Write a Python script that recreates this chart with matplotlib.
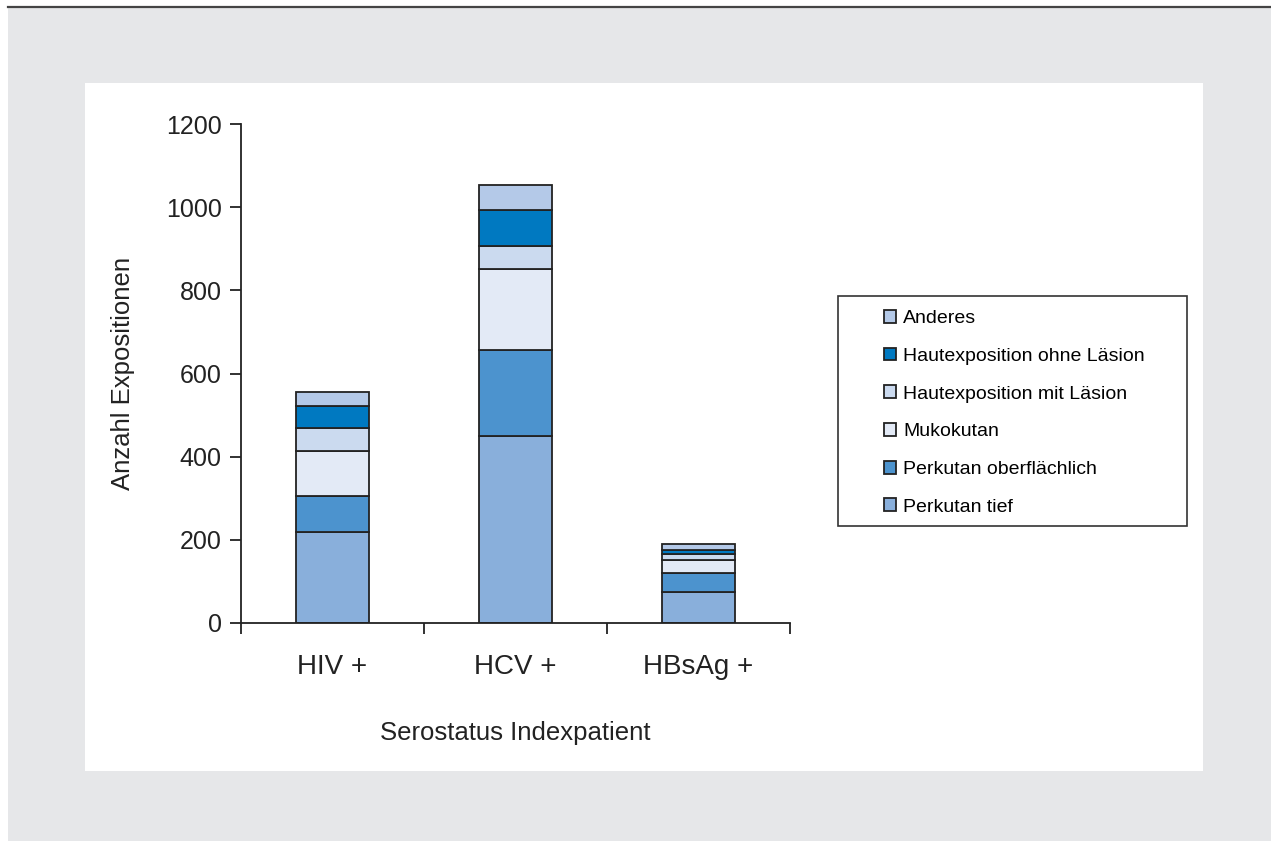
import matplotlib.pyplot as plt
from matplotlib.patches import Rectangle
from matplotlib.lines import Line2D
import numpy as np

categories = ["HIV +", "HCV +", "HBsAg +"]
series_names = ["Perkutan tief", "Perkutan oberflächlich", "Mukokutan",
                "Hautexposition mit Läsion", "Hautexposition ohne Läsion", "Anderes"]
perkutan_tief = [220, 449, 74]
perkutan_oberfl = [85, 208, 47]
mukokutan = [109, 194, 30]
haut_mit = [55, 55, 14]
haut_ohne = [53, 86, 11]
anderes = [34, 62, 15]
colors = ["#89AFDB", "#4C93CE", "#E3EAF6", "#CBDAEF", "#0079C1", "#B4C9E8"]

plt.rcParams["font.family"] = ["Liberation Sans", "DejaVu Sans"]

W, H = 1271, 841
fig = plt.figure(figsize=(W / 100, H / 100), dpi=100)
fig.patch.set_facecolor("white")

# grey frame + white panel
fig.patches.append(Rectangle((8 / W, 0), 1 - 8 / W, (H - 7) / H, transform=fig.transFigure,
                             facecolor="#E6E7E9", edgecolor="none", zorder=-2))
fig.patches.append(Rectangle((85 / W, (H - 771) / H), (1203 - 85) / W, (771 - 83) / H,
                             transform=fig.transFigure, facecolor="white",
                             edgecolor="none", zorder=-1))
fig.lines.append(Line2D([8 / W, 1], [(H - 6.5) / H] * 2, transform=fig.transFigure,
                        color="#444444", linewidth=1.6))
# legend frame
fig.patches.append(Rectangle((838 / W, (H - 526) / H), (1187 - 838) / W, (526 - 296) / H,
                             transform=fig.transFigure, facecolor="white",
                             edgecolor="#333333", linewidth=1.2, zorder=1))

ax = fig.add_axes([241 / W, (H - 623) / H, (790 - 241) / W, (623 - 124) / H])
ax.set_facecolor("none")

x = np.arange(len(categories))
stack = [perkutan_tief, perkutan_oberfl, mukokutan, haut_mit, haut_ohne, anderes]
bottom = np.zeros(len(categories))
handles = []
for vals, name, c in zip(stack, series_names, colors):
    b = ax.bar(x, vals, 0.4, bottom=bottom, color=c, edgecolor="#222222",
               linewidth=1.3, label=name)
    handles.append(b)
    bottom += np.array(vals)

ax.set_xlim(-0.5, 2.5)
ax.set_ylim(0, 1200)
ax.set_yticks(range(0, 1201, 200))
ax.set_xticks([-0.5, 0.5, 1.5, 2.5])
ax.set_xticklabels([])
ax.set_xticks(x, minor=True)
ax.set_xticklabels(categories, minor=True, fontsize=20, color="#222222")
ax.tick_params(axis="x", which="minor", length=0, pad=22)
ax.tick_params(axis="x", which="major", direction="out", length=8, width=1.3, color="#222222")
ax.tick_params(axis="y", direction="out", length=8, width=1.3, color="#222222",
               labelsize=18, labelcolor="#222222", pad=6)
for s in ["top", "right"]:
    ax.spines[s].set_visible(False)
for s in ["left", "bottom"]:
    ax.spines[s].set_linewidth(1.3)
    ax.spines[s].set_color("#222222")

ax.set_ylabel("Anzahl Expositionen", fontsize=18.5, color="#222222", labelpad=22)
ax.set_xlabel("Serostatus Indexpatient", fontsize=18.5, color="#222222", labelpad=30)

leg = fig.legend(handles[::-1], series_names[::-1],
                 loc="upper left", bbox_to_anchor=(876 / W, (H - 302) / H),
                 fontsize=14, frameon=False,
                 handlelength=0.65, handleheight=0.65, handletextpad=0.35,
                 labelspacing=1.05, borderpad=0.4, borderaxespad=0)
leg.set_zorder(2)

fig.savefig("out.png", dpi=100, facecolor=fig.get_facecolor())
